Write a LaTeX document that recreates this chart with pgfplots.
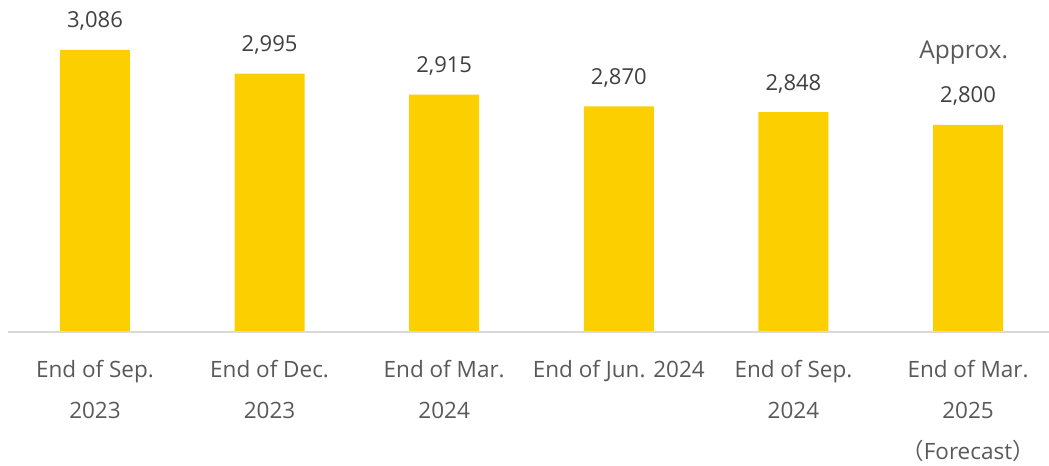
\documentclass[border=0pt]{standalone}
\usepackage{pgfplots}
\pgfplotsset{compat=1.18}
\usepackage{fontspec}
\setmainfont{Open Sans}
\newfontfamily\cjk{Noto Sans CJK JP}
\definecolor{baryellow}{HTML}{FCD000}
\definecolor{valgray}{HTML}{404040}
\definecolor{labgray}{HTML}{595959}
\definecolor{axgray}{HTML}{D9D9D9}
\begin{document}
\begin{tikzpicture}
\path[use as bounding box] (0,-134bp) rectangle (1049bp,332bp);
\begin{axis}[
  at={(0,0)}, anchor=south west,
  scale only axis, width=1049bp, height=332bp,
  xmin=-0.544, xmax=5.464,
  ymin=2010, ymax=3276,
  axis lines=none,
  clip=false,
  ybar, bar width=0.401,
  /pgf/number format/assume math mode=true,
  every node near coord/.append style={anchor=base, yshift=22bp},
]
\addplot[fill=baryellow, draw=none,
  nodes near coords={\pgfmathprintnumber[fixed,1000 sep={,},assume math mode=true]{\pgfplotspointmeta}},
  nodes near coords style={font=\fontsize{22bp}{26bp}\selectfont, text=valgray},
] coordinates {(0,3086) (1,2995) (2,2915) (3,2870) (4,2848) (5,2800)};
\draw[axgray, line width=1.2bp] (axis cs:-0.5,2010) -- (rel axis cs:1,0);
\node[anchor=base, font=\fontsize{24.5bp}{28bp}\selectfont, text=labgray] at ([yshift=66bp]axis cs:4.975,2800) {Approx.};
\node[anchor=base, align=center, font=\fontsize{22.5bp}{41bp}\selectfont, text=labgray] at ([yshift=-86bp]axis cs:0,2010) {End of Sep.\\2023};
\node[anchor=base, align=center, font=\fontsize{22.5bp}{41bp}\selectfont, text=labgray] at ([yshift=-86bp]axis cs:1,2010) {End of Dec.\\2023};
\node[anchor=base, align=center, font=\fontsize{22.5bp}{41bp}\selectfont, text=labgray] at ([yshift=-86bp]axis cs:2,2010) {End of Mar.\\2024};
\node[anchor=base, align=center, font=\fontsize{22.5bp}{41bp}\selectfont, text=labgray] at ([yshift=-45bp]axis cs:3,2010) {End of Jun. 2024};
\node[anchor=base, align=center, font=\fontsize{22.5bp}{41bp}\selectfont, text=labgray] at ([yshift=-86bp]axis cs:4,2010) {End of Sep.\\2024};
\node[anchor=base, align=center, font=\fontsize{22.5bp}{41bp}\selectfont, text=labgray] at ([yshift=-127bp]axis cs:5,2010) {End of Mar.\\2025\\{\cjk （}Forecast{\cjk ）}};
\end{axis}
\end{tikzpicture}
\end{document}
